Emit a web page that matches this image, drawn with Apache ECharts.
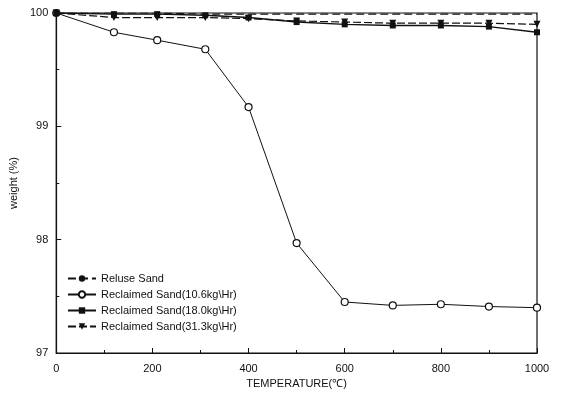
<!DOCTYPE html>
<html>
<head>
<meta charset="utf-8">
<script src="https://cdn.jsdelivr.net/npm/echarts@6/dist/echarts.min.js"></script>
<style>
  html, body { margin: 0; padding: 0; background: #fff; }
  #chart { width: 563px; height: 408px; }
</style>
</head>
<body>
<div id="chart"></div>
<script>
// temperatures (°C)
const temps = [0, 120, 210, 310, 400, 500, 600, 700, 800, 900, 1000];

// weight (%) for each sample
const reuseSand = [100, 100, 100, 99.99, 99.99, 99.99, 99.99, 99.99, 99.99, 99.99, 99.99];
const sand106 = [100, 99.83, 99.76, 99.68, 99.17, 97.97, 97.45, 97.42, 97.43, 97.41, 97.40];
const sand180 = [100, 99.99, 99.99, 99.98, 99.96, 99.92, 99.90, 99.89, 99.89, 99.88, 99.83];
const sand313 = [100, 99.96, 99.96, 99.96, 99.95, 99.93, 99.92, 99.91, 99.91, 99.91, 99.90];

const seriesNames = [
    'Reluse Sand',
    'Reclaimed Sand(10.6kg\\Hr)',
    'Reclaimed Sand(18.0kg\\Hr)',
    'Reclaimed Sand(31.3kg\\Hr)'
];

const pairs = (ys) => temps.map((t, i) => [t, ys[i]]);

const chart = echarts.init(document.getElementById('chart'));
const font = 'Liberation Sans, Arial, sans-serif';

const option = {
    animation: false,
    backgroundColor: '#fff',
    textStyle: { fontFamily: font, color: '#111' },
    grid: {
        left: 48,
        right: 26,
        top: 13,
        bottom: 55,
        show: true,
        borderColor: '#111',
        borderWidth: 1.2
    },
    legend: {
        orient: 'vertical',
        left: 62,
        top: 268,
        itemGap: 5,
        itemWidth: 28,
        itemHeight: 8,
        textStyle: { fontSize: 11, color: '#111', fontFamily: font },
        data: seriesNames
    },
    xAxis: {
        type: 'value',
        min: 0,
        max: 1000,
        interval: 200,
        name: 'TEMPERATURE(\u2103)',
        nameLocation: 'middle',
        nameGap: 25,
        nameTextStyle: { fontSize: 11, color: '#111' },
        axisLine: { lineStyle: { color: '#111', width: 1.2 } },
        axisTick: { inside: true, length: 5, lineStyle: { color: '#111' } },
        minorTick: { show: true, splitNumber: 2, length: 3, lineStyle: { color: '#111' } },
        axisLabel: { fontSize: 11, color: '#111', margin: 10, formatter: (v) => String(v) },
        splitLine: { show: false }
    },
    yAxis: {
        type: 'value',
        min: 97,
        max: 100,
        interval: 1,
        name: 'weight (%)',
        nameLocation: 'middle',
        nameGap: 28,
        nameTextStyle: { fontSize: 11, color: '#111' },
        axisLine: { show: true, lineStyle: { color: '#111', width: 1.2 } },
        axisTick: { show: true, inside: true, length: 5, lineStyle: { color: '#111' } },
        minorTick: { show: true, splitNumber: 2, length: 3, lineStyle: { color: '#111' } },
        axisLabel: { fontSize: 11, color: '#111', margin: 8 },
        splitLine: { show: false }
    },
    series: [
        {
            name: seriesNames[0],
            type: 'line',
            data: pairs(reuseSand),
            symbol: 'none',
            lineStyle: { color: '#111', width: 1.2, type: [8, 4] },
            itemStyle: { color: '#111' }
        },
        {
            name: seriesNames[1],
            type: 'line',
            data: pairs(sand106),
            symbol: 'circle',
            symbolSize: 7,
            lineStyle: { color: '#111', width: 1 },
            itemStyle: { color: '#fff', borderColor: '#111', borderWidth: 1.2 }
        },
        {
            name: seriesNames[2],
            type: 'line',
            data: pairs(sand180),
            symbol: 'rect',
            symbolSize: 6,
            lineStyle: { color: '#111', width: 1.4 },
            itemStyle: { color: '#111' }
        },
        {
            name: seriesNames[3],
            type: 'line',
            data: pairs(sand313),
            symbol: 'triangle',
            symbolRotate: 180,
            symbolSize: 7,
            lineStyle: { color: '#111', width: 1.2, type: [8, 3] },
            itemStyle: { color: '#111' }
        }
    ]
};

chart.setOption(option);
</script>
</body>
</html>
